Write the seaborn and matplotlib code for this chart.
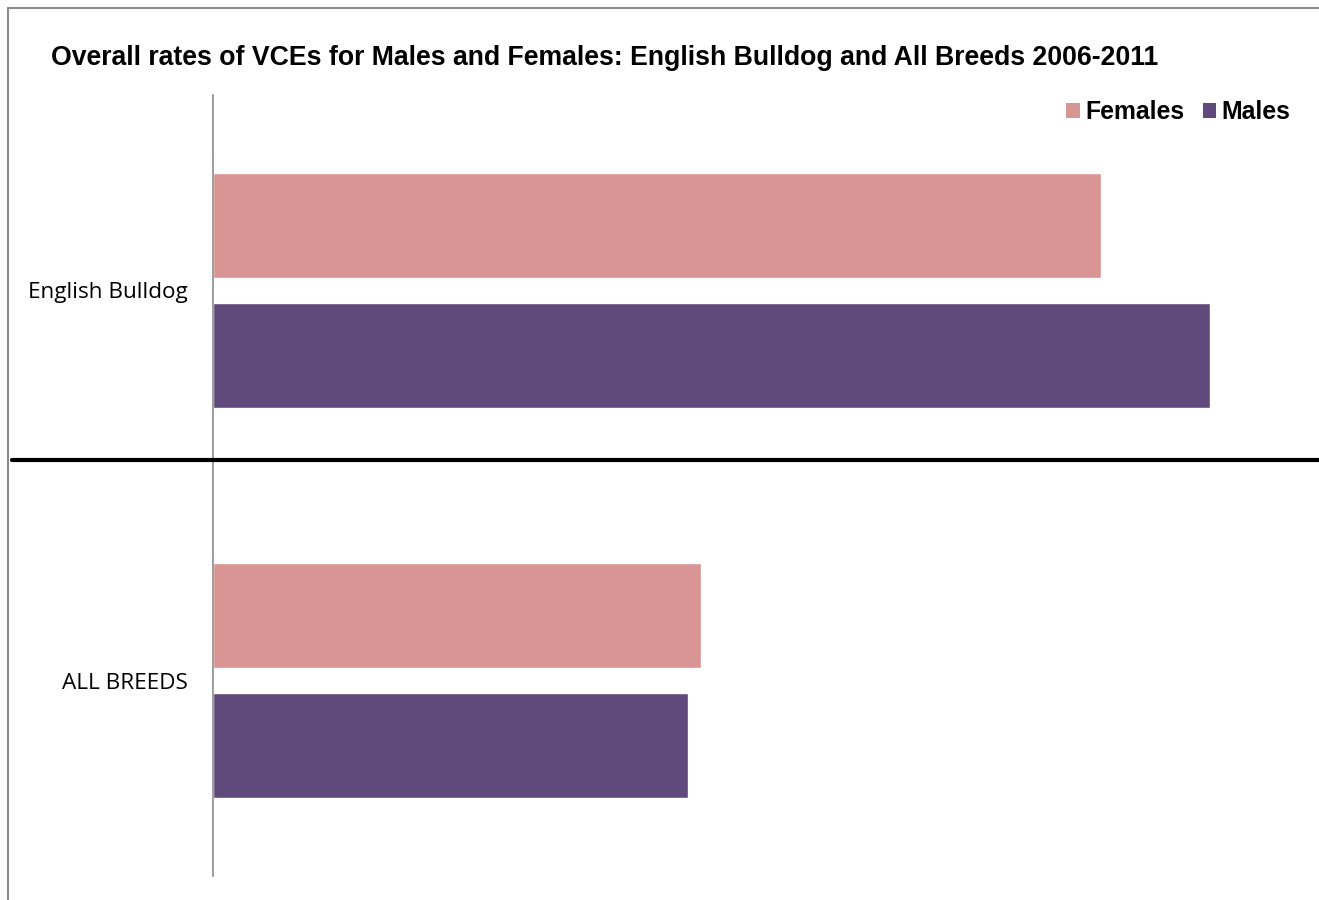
import matplotlib
matplotlib.use("Agg")
import matplotlib.pyplot as plt
from matplotlib.lines import Line2D
from matplotlib.patches import Patch
import seaborn as sns
import pandas as pd

categories = ["English Bulldog", "ALL BREEDS"]
females = [8.9, 4.89]
males = [10.0, 4.76]
series = ["Females", "Males"]
colors = ["#D99594", "#604A7B"]

df = pd.DataFrame({
    "breed": categories * 2,
    "sex": ["Females"] * len(categories) + ["Males"] * len(categories),
    "rate": females + males,
})

sns.set_theme(style="white")
plt.rcParams["font.family"] = ["Open Sans", "DejaVu Sans"]

W, H = 1319, 900
fig = plt.figure(figsize=(W / 100, H / 100), dpi=100)
ax = fig.add_axes([213 / W, 24 / H, 1097 / W, 781 / H])

sns.barplot(data=df, y="breed", x="rate", hue="sex", order=categories,
            hue_order=series, palette=colors, orient="h", width=0.664,
            gap=0.19, ax=ax, legend=False, saturation=1)

ax.set_xlim(0, 11)
ax.set_ylim(1.5, -0.5)
ax.set_xlabel("")
ax.set_ylabel("")
ax.set_xticks([])
for s in ["top", "right", "bottom"]:
    ax.spines[s].set_visible(False)
ax.spines["left"].set_color("#8c8c8c")
ax.spines["left"].set_linewidth(1.2)
ax.tick_params(axis="y", length=0, pad=18, labelsize=16.2, labelcolor="black")

fig.text(51 / W, 1 - 58 / H, "Overall rates of VCEs for Males and Females: English Bulldog and All Breeds 2006-2011",
         fontsize=19.2, fontweight="bold", family=["Liberation Sans", "DejaVu Sans"],
         ha="left", va="center", color="black")

handles = [Patch(facecolor=c, edgecolor="none") for c in colors]
leg = fig.legend(handles, series, loc="center right", bbox_to_anchor=(1300 / W, 1 - 112 / H),
                 ncol=2, frameon=False, handlelength=0.55, handleheight=0.55,
                 handletextpad=0.2, columnspacing=0.75, borderaxespad=0,
                 prop={"family": ["Liberation Sans", "DejaVu Sans"], "weight": "bold", "size": 17.8})
for t in leg.get_texts():
    t.set_color("black")

# outer frame (left and top)
fig.add_artist(Line2D([7.5 / W, 7.5 / W], [0, 1 - 7.5 / H], color="#8c8c8c", lw=1.5, transform=fig.transFigure))
fig.add_artist(Line2D([7.5 / W, 1], [1 - 7.5 / H, 1 - 7.5 / H], color="#8c8c8c", lw=1.5, transform=fig.transFigure))
# black separator line
fig.add_artist(Line2D([12 / W, 1], [1 - 459.5 / H, 1 - 459.5 / H], color="black", lw=3, transform=fig.transFigure))

fig.savefig("out.png", dpi=100)
